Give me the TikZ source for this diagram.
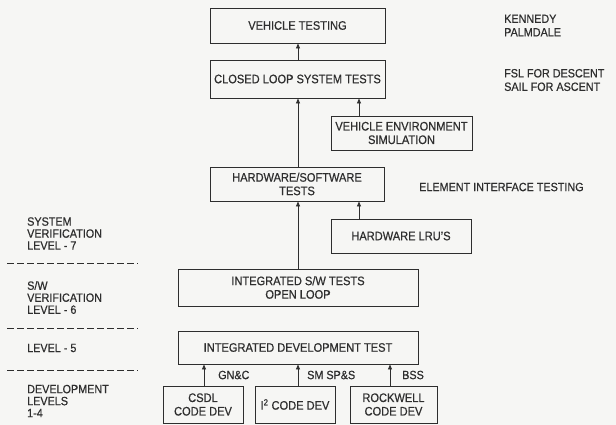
\documentclass[tikz,border=0pt]{standalone}
\usepackage{fontspec}
\setmainfont{Liberation Sans}[FakeStretch=0.9,FakeBold=0.6]
\usetikzlibrary{arrows.meta}
\definecolor{ink}{HTML}{2E2E2E}
\definecolor{paper}{HTML}{F6F6F4}
\begin{document}
\begin{tikzpicture}[x=1pt,y=-1pt,
  every node/.style={text=ink,font=\fontsize{12}{13.5}\selectfont},
  box/.style={draw=ink,line width=0.9pt,inner sep=0pt,align=center,font=\fontsize{12.3}{13.5}\selectfont},
  arr/.style={draw=ink,line width=0.8pt,-{Triangle[length=5pt,width=4pt]}},
  lbl/.style={anchor=west,inner sep=0pt,align=left},
  lvl/.style={anchor=west,inner sep=0pt,align=left,font=\fontsize{12}{12}\selectfont},
  sep/.style={draw=ink,line width=0.9pt,dash pattern=on 7pt off 3pt}]
\fill[paper] (0,0) rectangle (616,425);
\useasboundingbox (0,0) rectangle (616,425);
% boxes (centre, size)
\node[box,minimum width=175pt,minimum height=35pt] (vt) at (297.5,25.5) {VEHICLE TESTING};
\node[box,minimum width=175pt,minimum height=38pt] (cl) at (297.5,79) {CLOSED LOOP SYSTEM TESTS};
\node[box,minimum width=141pt,minimum height=34pt] (ves) at (401.5,133) {VEHICLE ENVIRONMENT\\SIMULATION};
\node[box,minimum width=174pt,minimum height=34pt] (hwsw) at (297,184) {HARDWARE/SOFTWARE\\TESTS};
\node[box,minimum width=140pt,minimum height=34pt] (lru) at (401,236) {HARDWARE LRU'S};
\node[box,minimum width=240pt,minimum height=37pt] (isw) at (298,287.5) {INTEGRATED S/W TESTS\\OPEN LOOP};
\node[box,minimum width=240pt,minimum height=33pt] (idt) at (298,347.5) {INTEGRATED DEVELOPMENT TEST};
\node[box,minimum width=80pt,minimum height=37pt] (csdl) at (203,404.5) {CSDL\\CODE DEV};
\node[box,minimum width=80pt,minimum height=37pt] (itwo) at (295,404.5) {I\textsuperscript{2} CODE DEV};
\node[box,minimum width=87pt,minimum height=37pt] (rock) at (393.5,404.5) {ROCKWELL\\CODE DEV};
% column coordinates
\coordinate (xa) at (298,0);
\coordinate (xb) at (359,0);
\coordinate (xc) at (204,0);
\coordinate (xd) at (390,0);
% connectors
\draw[arr] (cl.north -| xa) -- (vt.south -| xa);
\draw[arr] (hwsw.north -| xa) -- (cl.south -| xa);
\draw[arr] (ves.north -| xb) -- (cl.south -| xb);
\draw[arr] (isw.north -| xa) -- (hwsw.south -| xa);
\draw[arr] (lru.north -| xb) -- (hwsw.south -| xb);
\draw[arr] (csdl.north -| xc) -- (idt.south -| xc);
\draw[arr] (itwo.north -| xa) -- (idt.south -| xa);
\draw[arr] (rock.north -| xd) -- (idt.south -| xd);
% connector labels
\node[lbl] (gnc) at (218,375) {GN\&C};
\node[lbl] (smsps) at (307,375) {SM SP\&S};
\node[lbl] (bss) at (402,375) {BSS};
% right notes
\node[lbl] (ken) at (504,25.5) {KENNEDY\\PALMDALE};
\node[lbl] (fsl) at (504,80) {FSL FOR DESCENT\\SAIL FOR ASCENT};
\node[lbl] (eit) at (419,187) {ELEMENT INTERFACE TESTING};
% left levels
\node[lvl] (l7) at (27,233.5) {SYSTEM\\VERIFICATION\\LEVEL - 7};
\node[lvl] (l6) at (27,297.5) {S/W\\VERIFICATION\\LEVEL - 6};
\node[lvl] (l5) at (27,348) {LEVEL - 5};
\node[lvl] (l14) at (27,401) {DEVELOPMENT\\LEVELS\\1-4};
\coordinate (s1a) at (7,263); \coordinate (s1b) at (138,263);
\coordinate (s2a) at (7,328); \coordinate (s2b) at (138,328);
\coordinate (s3a) at (7,370); \coordinate (s3b) at (138,370);
\draw[sep] (s1a) -- (s1b);
\draw[sep] (s2a) -- (s2b);
\draw[sep] (s3a) -- (s3b);
\end{tikzpicture}
\end{document}
